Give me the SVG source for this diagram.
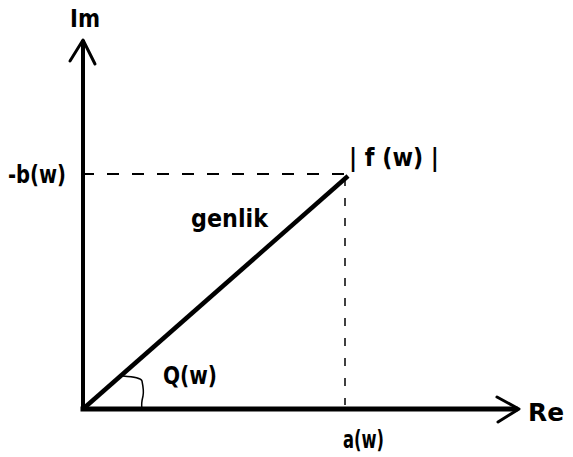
<svg xmlns="http://www.w3.org/2000/svg" width="573" height="457" viewBox="0 0 573 457">
<style>
.t{font-family:"DejaVu Sans","Liberation Sans",sans-serif;font-weight:bold;font-size:24px;fill:#000}
.ax{stroke:#000;fill:none;stroke-linecap:square}
.ah{stroke:#000;stroke-width:3;fill:none;stroke-linecap:round;stroke-linejoin:round}
.dh{stroke:#000;stroke-width:2;stroke-dasharray:12,13;fill:none}
.dv{stroke:#000;stroke-width:1.5;stroke-dasharray:8,12;fill:none}
</style>
<rect width="573" height="457" fill="#fff"/>
<g id="connectors">
<line class="dh" x1="82" y1="174" x2="345" y2="174"/>
<line class="dv" x1="345" y1="178" x2="345" y2="405"/>
<line class="ax" stroke-width="4" x1="83" y1="409" x2="83" y2="42"/>
<polyline class="ah" points="70,61 83,40 95,64"/>
<line class="ax" stroke-width="5" x1="83" y1="409" x2="515" y2="409"/>
<polyline class="ah" points="497,397 519,409 498,422"/>
<line x1="83" y1="409" x2="348" y2="176" stroke="#000" stroke-width="4.5"/>
<path d="M123,376 C135,377 141,378 142,381 C143,386 144,392 143,396 C142,400 141,404 142,408" stroke="#000" stroke-width="1.5" fill="none"/>
</g>
<g id="im"><text class="t" x="70" y="27" textLength="30" lengthAdjust="spacingAndGlyphs" font-size="27">Im</text></g>
<g id="re"><text class="t" x="528" y="421" textLength="36" lengthAdjust="spacingAndGlyphs" font-size="25">Re</text></g>
<g id="bw"><text class="t" x="8" y="183" textLength="58" lengthAdjust="spacingAndGlyphs">-b(w)</text></g>
<g id="fw"><text class="t" x="349" y="166" textLength="90" lengthAdjust="spacingAndGlyphs">| f (w) |</text></g>
<g id="genlik"><text class="t" x="191" y="227" textLength="77" lengthAdjust="spacingAndGlyphs" font-size="23">genlik</text></g>
<g id="qw"><text class="t" x="163" y="384" textLength="54" lengthAdjust="spacingAndGlyphs">Q(w)</text></g>
<g id="aw"><text class="t" x="343" y="448" textLength="41" lengthAdjust="spacingAndGlyphs">a(w)</text></g>
</svg>
